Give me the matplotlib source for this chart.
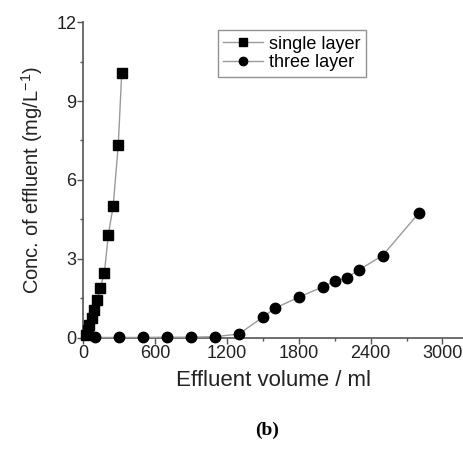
import matplotlib
matplotlib.use("Agg")
import matplotlib.pyplot as plt
from matplotlib.ticker import MultipleLocator

plt.rcParams['font.family'] = ['Liberation Sans', 'DejaVu Sans']

# single layer column
single_x = [23, 37, 50, 70, 92, 117, 142, 176, 209, 250, 292, 321]
single_y = [0.11, 0.30, 0.49, 0.75, 1.06, 1.44, 1.91, 2.46, 3.91, 5.02, 7.33, 10.05]

# three layer column
three_x = [100, 300, 500, 700, 900, 1100, 1300, 1500, 1600, 1800, 2000, 2100, 2200, 2300, 2500, 2800]
three_y = [0.02, 0.02, 0.02, 0.03, 0.03, 0.05, 0.15, 0.79, 1.13, 1.55, 1.94, 2.15, 2.28, 2.58, 3.13, 4.73]

x_ticks = [0, 600, 1200, 1800, 2400, 3000]
y_ticks = [0, 3, 6, 9, 12]

fig = plt.figure(figsize=(4.64, 4.51), dpi=100)
ax = fig.add_axes([0.1795, 0.2506, 0.8205, 0.7006])

line_col = '#9a9a9a'
ax.plot(single_x, single_y, color=line_col, lw=1, marker='s', ms=6.5,
        mfc='black', mec='black', label='single layer', clip_on=False, zorder=3)
ax.plot(three_x, three_y, color=line_col, lw=1, marker='o', ms=7.5,
        mfc='black', mec='black', label='three layer', clip_on=False, zorder=3)

ax.set_xlim(0, 3180)
ax.set_ylim(0, 12)
ax.set_xticks(x_ticks)
ax.set_yticks(y_ticks)
ax.xaxis.set_minor_locator(MultipleLocator(300))
ax.yaxis.set_minor_locator(MultipleLocator(1.5))

for s in ['top', 'right']:
    ax.spines[s].set_visible(False)
for s in ['left', 'bottom']:
    ax.spines[s].set_color('#555555')
    ax.spines[s].set_linewidth(1.2)

ax.tick_params(which='both', direction='out', color='#555555', width=1)
ax.tick_params(which='major', length=4, labelsize=13, pad=1, labelcolor='#222222')
ax.tick_params(which='minor', length=2.5)

ax.set_xlabel('Effluent volume / ml', fontsize=16, color='#222222', labelpad=6)
ax.set_ylabel(r'Conc. of effluent (mg/L$^{\mathregular{-1}}$)', fontsize=14.5,
              color='#222222', labelpad=8)

leg = fig.legend(loc='upper left', bbox_to_anchor=(0.47, 0.933), fontsize=13,
                 frameon=True, fancybox=False, handlelength=2.2, borderaxespad=0,
                 borderpad=0.3, labelspacing=0.1, handletextpad=0.3)
leg.get_frame().set_edgecolor('#777777')
leg.get_frame().set_linewidth(1)
for h in leg.get_lines():
    h.set_markersize(6)

fig.text(0.575, 0.045, '(b)', fontsize=14, fontweight='bold', family='Liberation Serif',
         ha='center', va='center')

fig.savefig('out.png', dpi=100)
